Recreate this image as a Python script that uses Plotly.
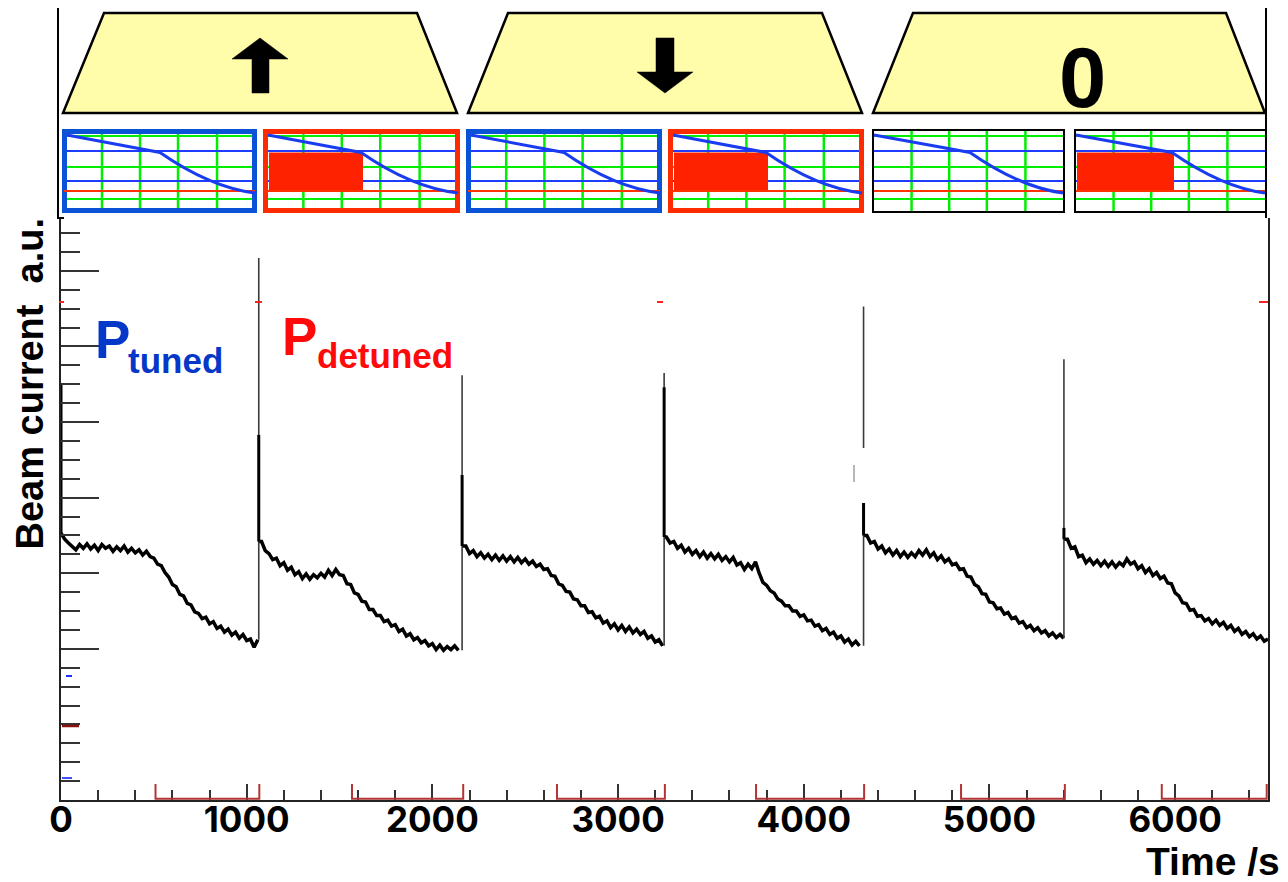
import numpy as np
import plotly.graph_objects as go

# ---------------- data ----------------
sample_step_s = 20
cycle_first_sample_s = [0, 1080, 2180, 3260, 4340, 5420]
cycle_jump_s = [0, 1065, 2160, 3248, 4322, 5401]
spike_peak_au = [5.49, 7.17, 5.62, 5.65, 6.53, 5.83]
spike_knee_au = [5.49, 4.83, 4.30, 5.46, 3.93, 3.60]

cycle1_au = [3.53, 3.45, 3.40, 3.36, 3.31, 3.38, 3.33, 3.39, 3.32, 3.37,
             3.30, 3.38, 3.33, 3.36, 3.29, 3.35, 3.30, 3.36, 3.28, 3.33,
             3.27, 3.31, 3.24, 3.29, 3.22, 3.20, 3.12, 3.10, 3.01, 2.95,
             2.85, 2.82, 2.72, 2.70, 2.60, 2.58, 2.49, 2.47, 2.40, 2.42,
             2.33, 2.36, 2.27, 2.30, 2.22, 2.26, 2.18, 2.22, 2.14, 2.19,
             2.11, 2.13, 2.02, 2.12]
cycle2_au = [3.42, 3.30, 3.26, 3.18, 3.20, 3.10, 3.14, 3.04, 3.08, 2.98,
             3.02, 2.93, 2.99, 2.92, 2.98, 2.94, 3.00, 2.95, 3.04, 2.97,
             3.05, 2.98, 2.97, 2.86, 2.85, 2.74, 2.72, 2.63, 2.62, 2.52,
             2.52, 2.44, 2.44, 2.36, 2.38, 2.30, 2.32, 2.23, 2.26, 2.17,
             2.20, 2.12, 2.15, 2.08, 2.11, 2.04, 2.07, 1.99, 2.05, 1.98,
             2.03, 1.99, 2.04, 1.98]
cycle3_au = [3.36, 3.26, 3.30, 3.22, 3.27, 3.20, 3.25, 3.18, 3.24, 3.17,
             3.23, 3.16, 3.22, 3.15, 3.21, 3.14, 3.19, 3.12, 3.16, 3.09,
             3.12, 3.05, 3.06, 2.97, 2.96, 2.86, 2.84, 2.76, 2.75, 2.66,
             2.65, 2.57, 2.57, 2.48, 2.49, 2.41, 2.43, 2.34, 2.37, 2.28,
             2.33, 2.25, 2.31, 2.23, 2.29, 2.21, 2.26, 2.19, 2.23, 2.14,
             2.17, 2.09, 2.12, 2.04]
cycle4_au = [3.48, 3.40, 3.42, 3.33, 3.37, 3.28, 3.33, 3.25, 3.30, 3.22,
             3.28, 3.20, 3.26, 3.19, 3.25, 3.17, 3.22, 3.15, 3.21, 3.11,
             3.14, 3.05, 3.12, 3.06, 3.15, 3.00, 2.88, 2.84, 2.77, 2.74,
             2.66, 2.63, 2.57, 2.57, 2.50, 2.50, 2.43, 2.45, 2.37, 2.38,
             2.30, 2.32, 2.24, 2.27, 2.19, 2.22, 2.14, 2.17, 2.09, 2.13,
             2.05, 2.10, 2.04]
cycle5_au = [3.50, 3.40, 3.42, 3.32, 3.36, 3.27, 3.32, 3.24, 3.30, 3.22,
             3.28, 3.21, 3.27, 3.22, 3.30, 3.24, 3.31, 3.22, 3.27, 3.18,
             3.23, 3.15, 3.19, 3.11, 3.13, 3.05, 3.06, 2.96, 2.95, 2.85,
             2.82, 2.73, 2.72, 2.62, 2.61, 2.53, 2.54, 2.46, 2.48, 2.40,
             2.42, 2.34, 2.36, 2.28, 2.31, 2.24, 2.28, 2.21, 2.24, 2.17,
             2.21, 2.15, 2.19, 2.14]
cycle6_au = [3.45, 3.33, 3.35, 3.22, 3.24, 3.14, 3.19, 3.12, 3.17, 3.10,
             3.16, 3.09, 3.15, 3.08, 3.14, 3.10, 3.19, 3.12, 3.15, 3.06,
             3.10, 3.01, 3.06, 2.97, 3.01, 2.93, 2.96, 2.87, 2.86, 2.74,
             2.70, 2.61, 2.60, 2.51, 2.52, 2.43, 2.44, 2.37, 2.40, 2.33,
             2.38, 2.31, 2.35, 2.27, 2.31, 2.23, 2.27, 2.19, 2.23, 2.16,
             2.20, 2.13, 2.17, 2.10, 2.13]
cycles_au = [cycle1_au, cycle2_au, cycle3_au, cycle4_au, cycle5_au, cycle6_au]

detuned_start_s = [509, 1567, 2671, 3743, 4847, 5928]
detuned_end_s = [1068, 2166, 3252, 4325, 5406, 6493]

x_tick_vals = [0, 1000, 2000, 3000, 4000, 5000, 6000]
x_tick_text = ["0", "1000", "2000", "3000", "4000", "5000", "6000"]
y_major_vals = [2, 3, 4, 5, 6, 7]

# ---------------- layout geometry (page pixels) ----------------
PAGE_W, PAGE_H = 1288, 882
OFF = 8                       # default body margin of the html page
FIG_W, FIG_H = PAGE_W - OFF, PAGE_H - OFF
L, R, T, B = 61, 1268, 218, 800   # plot area in page pixels


def X(px):
    return (px - L) / (R - L)


def Y(py):
    return (B - py) / (B - T)


def P(pts):
    return "M " + " L ".join(f"{X(a):.5f},{Y(b):.5f}" for a, b in pts) + " Z"


fig = go.Figure()

# main noisy trace, one segment per cycle
xs, ys = [], []
for jump, t0, vals in zip(cycle_jump_s, cycle_first_sample_s, cycles_au):
    t = t0 + sample_step_s * np.arange(len(vals))
    xs += [jump] + list(t) + [None]
    ys += [vals[0]] + list(vals) + [None]
fig.add_trace(go.Scatter(x=xs, y=ys, mode="lines",
                         line=dict(color="black", width=3.5),
                         hoverinfo="skip", showlegend=False))

# spikes at each cycle start
sx, sy, kx, ky = [], [], [], []
for i, jump in enumerate(cycle_jump_s):
    base = cycles_au[i - 1][-1] if i > 0 else cycles_au[0][0]
    sx += [jump, jump, None]
    sy += [base, spike_peak_au[i], None]
    kx += [jump, jump, None]
    ky += [spike_knee_au[i], cycles_au[i][0], None]
fig.add_trace(go.Scatter(x=sx, y=sy, mode="lines",
                         line=dict(color="#3a3a3a", width=1.6),
                         hoverinfo="skip", showlegend=False))
fig.add_trace(go.Scatter(x=kx, y=ky, mode="lines",
                         line=dict(color="black", width=3),
                         hoverinfo="skip", showlegend=False))

shapes = []

# detuned brackets along the time axis
for s, e in zip(detuned_start_s, detuned_end_s):
    shapes.append(dict(type="path", xref="x", yref="paper",
                       path=f"M {s},{16/(B-T):.5f} L {s},0.002 L {e},0.002 L {e},{16/(B-T):.5f}",
                       line=dict(color="#b23434", width=2)))

# white patch over the spike at 4322 s and small gray mark
shapes.append(dict(type="rect", xref="paper", yref="paper",
                   x0=X(857), x1=X(872), y0=Y(503), y1=Y(448),
                   fillcolor="white", line=dict(width=0)))
shapes.append(dict(type="line", xref="paper", yref="paper",
                   x0=X(854), x1=X(854), y0=Y(482), y1=Y(465),
                   line=dict(color="#888", width=1.2)))

# small coloured stray ticks
for xa, xb in [(59, 64), (255, 262), (657, 663), (1259, 1268)]:
    shapes.append(dict(type="line", xref="paper", yref="paper",
                       x0=X(xa), x1=X(xb), y0=Y(302), y1=Y(302),
                       line=dict(color="#ff2020", width=2)))
shapes.append(dict(type="line", xref="paper", yref="paper",
                   x0=X(62), x1=X(79), y0=Y(726), y1=Y(726),
                   line=dict(color="#8b1010", width=2.5)))
shapes.append(dict(type="line", xref="paper", yref="paper",
                   x0=X(66), x1=X(72), y0=Y(676), y1=Y(676),
                   line=dict(color="#2030ff", width=2)))
shapes.append(dict(type="line", xref="paper", yref="paper",
                   x0=X(62), x1=X(72), y0=Y(778), y1=Y(778),
                   line=dict(color="#4050ff", width=2)))

# top box border
shapes.append(dict(type="path", xref="paper", yref="paper",
                   path=f"M {X(64)},{Y(218)} L {X(58)},{Y(218)} L {X(58)},{Y(5)} L {X(1266)},{Y(5)} L {X(1266)},{Y(218)}",
                   line=dict(color="black", width=2)))

# trapezoids
YEL = "#fffcaa"
for pts in [[(104, 13), (417, 13), (457, 113), (63, 113)],
            [(508, 13), (822, 13), (862, 113), (468, 113)],
            [(913, 13), (1226, 13), (1265, 113), (873, 113)]]:
    shapes.append(dict(type="path", xref="paper", yref="paper", path=P(pts),
                       fillcolor=YEL, line=dict(color="black", width=2.5)))

# arrows
shapes.append(dict(type="path", xref="paper", yref="paper",
                   path=P([(260, 38), (288, 59), (269, 59), (269, 93), (252, 93), (252, 59), (232, 59)]),
                   fillcolor="black", line=dict(color="black", width=0.5)))
shapes.append(dict(type="path", xref="paper", yref="paper",
                   path=P([(665, 93), (693, 72), (674, 72), (674, 38), (656, 38), (656, 72), (637, 72)]),
                   fillcolor="black", line=dict(color="black", width=0.5)))

# small schematic panels
BLUE_F, RED_F = "#0a52d6", "#ff2b00"
GREEN, BLUE_L = "#00ee00", "#1e3cff"
panels = [(62, 257, BLUE_F, 5, False), (263, 460, RED_F, 5, True),
          (466, 662, BLUE_F, 5, False), (668, 864, RED_F, 5, True),
          (872, 1065, "black", 2, False), (1074, 1267, "black", 2, True)]
py0, py1 = 129, 213
for x0, x1, col, bw, det in panels:
    shapes.append(dict(type="rect", xref="paper", yref="paper",
                       x0=X(x0 + bw / 2), x1=X(x1 - bw / 2), y0=Y(py1 - bw / 2), y1=Y(py0 + bw / 2),
                       fillcolor="white", line=dict(color=col, width=bw)))
    ix0, ix1 = x0 + bw, x1 - bw
    for f in [0.205, 0.4, 0.595, 0.795]:
        gx = x0 + f * (x1 - x0)
        shapes.append(dict(type="line", xref="paper", yref="paper",
                           x0=X(gx), x1=X(gx), y0=Y(py1 - bw), y1=Y(py0 + bw),
                           line=dict(color=GREEN, width=2.5)))
    for gy, c in [(136, GREEN), (151, BLUE_L), (167, GREEN), (181, BLUE_L), (199, GREEN)]:
        shapes.append(dict(type="line", xref="paper", yref="paper",
                           x0=X(ix0), x1=X(ix1), y0=Y(gy), y1=Y(gy),
                           line=dict(color=c, width=2.2)))
    if det:
        shapes.append(dict(type="rect", xref="paper", yref="paper",
                           x0=X(ix0 + 1), x1=X(x0 + 100), y0=Y(191), y1=Y(152.5),
                           fillcolor="#ff2200", line=dict(width=0)))
    shapes.append(dict(type="line", xref="paper", yref="paper",
                       x0=X(x0 + 2), x1=X(x1 - 2), y0=Y(191), y1=Y(191),
                       line=dict(color="#ff3300", width=2.2)))
    kx0 = x0 + 98
    path = (f"M {X(ix0)},{Y(135)} L {X(kx0)},{Y(152.5)} "
            f"C {X(kx0 + 18)},{Y(165)} {X(kx0 + 55)},{Y(188)} {X(x1 - 2)},{Y(193)}")
    shapes.append(dict(type="path", xref="paper", yref="paper", path=path,
                       line=dict(color="#1a3cf0", width=3)))

fig.update_layout(shapes=shapes)

ARIAL = "Liberation Sans, Arial, Helvetica, sans-serif"
ann = []
ann.append(dict(text="0", x=X(1082), y=Y(77.5), xref="paper", yref="paper",
                xanchor="center", yanchor="middle", showarrow=False,
                font=dict(family=ARIAL, size=85, color="black", weight="bold")))
ann.append(dict(text="P", x=X(93), y=Y(339), xref="paper", yref="paper",
                xanchor="left", yanchor="middle", showarrow=False,
                font=dict(family=ARIAL, size=53, color="#0538c8", weight="bold")))
ann.append(dict(text="tuned", x=X(126), y=Y(360), xref="paper", yref="paper",
                xanchor="left", yanchor="middle", showarrow=False,
                font=dict(family=ARIAL, size=35, color="#0538c8", weight="bold")))
ann.append(dict(text="P", x=X(280), y=Y(336), xref="paper", yref="paper",
                xanchor="left", yanchor="middle", showarrow=False,
                font=dict(family=ARIAL, size=53, color="#ff0a0a", weight="bold")))
ann.append(dict(text="detuned", x=X(315), y=Y(355), xref="paper", yref="paper",
                xanchor="left", yanchor="middle", showarrow=False,
                font=dict(family=ARIAL, size=35, color="#ff0a0a", weight="bold")))
ann.append(dict(text="Beam current\u00a0 a.u.", x=X(29), y=Y(383.5), xref="paper", yref="paper",
                xanchor="center", yanchor="middle", showarrow=False, textangle=-90,
                font=dict(family=ARIAL, size=38, color="black", weight="bold")))
ann.append(dict(text="Time /s", x=X(1282), y=Y(885), xref="paper", yref="paper",
                xanchor="right", yanchor="bottom", showarrow=False,
                font=dict(family=ARIAL, size=39, color="black", weight="bold")))
fig.update_layout(annotations=ann)

fig.update_layout(
    width=FIG_W, height=FIG_H,
    margin=dict(l=L - OFF, r=PAGE_W - R, t=T - OFF, b=PAGE_H - B, pad=0),
    paper_bgcolor="white", plot_bgcolor="white",
    showlegend=False,
    xaxis=dict(range=[0, 6500], showgrid=False, zeroline=False,
               showline=True, linecolor="#222", linewidth=2,
               ticks="inside", ticklen=16, tickwidth=2, tickcolor="#333",
               tickmode="array", tickvals=x_tick_vals, ticktext=x_tick_text,
               ticklabelstandoff=-12,
               tickfont=dict(family="Inter, " + ARIAL, size=35, color="black", weight="bold"),
               minor=dict(ticks="inside", ticklen=10, tickwidth=2, tickcolor="#333",
                          tickmode="linear", tick0=0, dtick=200, showgrid=False)),
    yaxis=dict(range=[0, 7.7], showgrid=False, zeroline=False,
               showline=True, linecolor="#222", linewidth=2, mirror=True,
               ticks="inside", ticklen=38, tickwidth=2, tickcolor="#333",
               tickmode="array", tickvals=y_major_vals, showticklabels=False,
               minor=dict(ticks="inside", ticklen=19, tickwidth=2, tickcolor="#333",
                          tickmode="linear", tick0=0, dtick=0.25, showgrid=False)),
)

fig.write_html("out.html")
